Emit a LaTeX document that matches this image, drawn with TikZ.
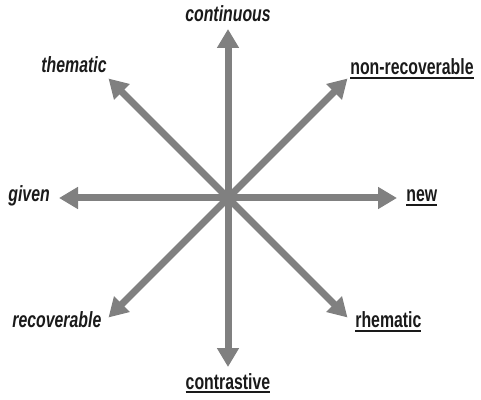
\documentclass[tikz,border=0pt]{standalone}
\usepackage{fontspec}
\setmainfont{Liberation Sans}[FakeStretch=0.72]
\usetikzlibrary{arrows.meta}
\definecolor{axisgray}{HTML}{808080}
\definecolor{textdark}{HTML}{1A1A1A}

% underlined label with a heavy rule
\newcommand{\ulword}[1]{\vtop{\hbox{#1}\kern0.9pt\hrule height 1pt}}

\begin{document}
\begin{tikzpicture}[
    x=0.5pt, y=-0.5pt,
    axis/.style={axisgray, line width=3.5pt, -{Triangle[width=10.5pt, length=9.5pt]}},
    pole/.style={font=\fontsize{11pt}{13pt}\selectfont\bfseries\itshape, text=textdark, inner sep=0pt},
    markedpole/.style={font=\fontsize{11pt}{13pt}\selectfont\bfseries, text=textdark, inner sep=0pt}
]
  \useasboundingbox (0,0) rectangle (481,400);

  % Centre of the star
  \coordinate (c) at (228,198);

  % Eight arrows out from the centre
  \foreach \a in {0,45,...,315} {
    \path (c) ++(\a:169) coordinate (tip\a);
    \draw[axis] (c) -- (tip\a);
  }

  % Unmarked poles
  \node[pole, anchor=base] (continuous) at (228,22) {continuous};
  \node[pole, anchor=base east] (thematic) at (107,73) {thematic};
  \node[pole, anchor=base west] (given) at (8,202) {given};
  \node[pole, anchor=base west] (recoverable) at (12,328) {recoverable};

  % Marked poles
  \node[markedpole, anchor=base east] (nonrecoverable) at (474,75) {\ulword{non-recoverable}};
  \node[markedpole, anchor=base west] (new) at (406,202) {\ulword{new}};
  \node[markedpole, anchor=base west] (rhematic) at (355,328) {\ulword{rhematic}};
  \node[markedpole, anchor=base] (contrastive) at (228,389) {\ulword{contrastive}};
\end{tikzpicture}
\end{document}
